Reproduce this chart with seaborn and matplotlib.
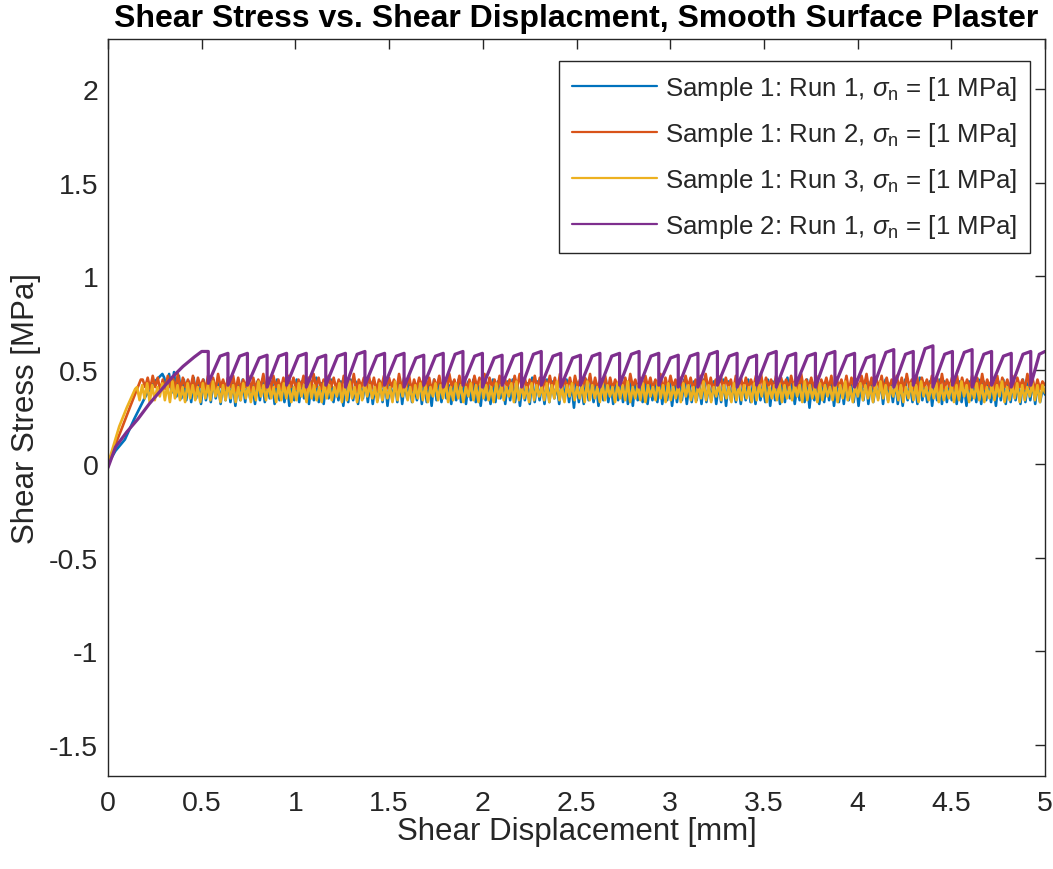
import numpy as np
import pandas as pd
import matplotlib
matplotlib.use("Agg")
import matplotlib.pyplot as plt
import seaborn as sns

# ---------------- data ----------------
labels = [
    r"Sample 1: Run 1, $\sigma_\mathrm{n}$ = [1 MPa]",
    r"Sample 1: Run 2, $\sigma_\mathrm{n}$ = [1 MPa]",
    r"Sample 1: Run 3, $\sigma_\mathrm{n}$ = [1 MPa]",
    r"Sample 2: Run 1, $\sigma_\mathrm{n}$ = [1 MPa]",
]
colors = ["#0072BD", "#D95319", "#EDB120", "#7E2F8E"]

# initial loading ramps (displacement mm, stress MPa)
s1r1_ramp_x = [0.0, 0.04, 0.09, 0.14, 0.20, 0.25, 0.29]
s1r1_ramp_y = [0.0, 0.07, 0.13, 0.24, 0.36, 0.44, 0.48]
s1r2_ramp_x = [0.0, 0.03, 0.07, 0.12, 0.175]
s1r2_ramp_y = [0.0, 0.08, 0.18, 0.31, 0.45]
s1r3_ramp_x = [0.0, 0.03, 0.06, 0.10, 0.145]
s1r3_ramp_y = [0.0, 0.10, 0.20, 0.30, 0.40]
s2r1_ramp_x = [0.0, 0.04, 0.10, 0.16, 0.22, 0.28, 0.34, 0.40, 0.46, 0.50]
s2r1_ramp_y = [-0.02, 0.09, 0.17, 0.24, 0.32, 0.39, 0.46, 0.52, 0.57, 0.60]

# stick-slip oscillation extremes after peak (stress in 0.01 MPa)
s1r1_hi = [
    46, 48, 49, 47, 45, 44, 46, 43, 45, 44, 45, 43, 44, 46, 44, 43, 45, 44, 42, 44,
    45, 43, 44, 45, 43, 44, 42, 45, 44, 43, 44, 46, 43, 44, 45, 42, 44, 43, 45, 44,
    43, 45, 44, 42, 44, 45, 43, 44, 46, 43, 44, 42, 45, 44, 43, 45, 44, 43, 42, 44,
    45, 43, 44, 45, 42, 44, 43, 45, 44, 43, 44, 45, 42, 44, 43, 46, 44, 43, 45, 44,
    42, 44, 45, 43, 44, 42, 45, 44, 43, 44, 45, 43, 42, 44, 45, 43, 44, 42, 45, 43,
    44, 45, 43, 44, 42, 44, 45, 43, 44, 43, 45, 42, 44, 43, 45, 44, 42, 44, 43, 45,
    43, 44, 42, 45, 44, 43, 44, 46, 43, 42, 44, 45, 43, 44, 42, 45, 44, 43, 44, 45,
    42, 44, 43, 45, 44, 42, 44, 45, 43, 44, 43, 45, 42, 44, 46, 43, 44, 42, 45, 44,
    43, 45, 44, 42, 44, 43, 45, 44, 43, 42, 44, 45, 43, 44, 42, 45, 43, 44, 43, 40]
s1r1_lo = [
    40, 38, 36, 35, 34, 33, 35, 32, 34, 33, 35, 32, 34, 33, 31, 34, 33, 35, 32, 34,
    33, 35, 32, 34, 33, 31, 34, 33, 35, 32, 34, 33, 32, 35, 33, 34, 31, 33, 34, 32,
    35, 33, 32, 34, 33, 31, 34, 33, 32, 35, 33, 34, 32, 33, 31, 34, 33, 35, 32, 34,
    33, 32, 34, 33, 31, 34, 32, 33, 35, 32, 34, 33, 31, 34, 32, 33, 34, 32, 33, 35,
    32, 34, 33, 30, 33, 32, 34, 33, 31, 34, 33, 32, 34, 33, 32, 31, 34, 33, 32, 34,
    33, 32, 34, 31, 33, 34, 32, 33, 34, 32, 33, 34, 32, 33, 31, 34, 33, 32, 34, 33,
    32, 34, 33, 31, 34, 32, 33, 35, 32, 34, 33, 30, 34, 32, 33, 34, 31, 33, 32, 34,
    33, 31, 34, 32, 33, 35, 32, 34, 33, 32, 31, 34, 33, 32, 34, 33, 31, 34, 32, 33,
    34, 32, 33, 31, 34, 33, 32, 34, 33, 31, 34, 32, 33, 34, 32, 33, 34, 32, 33, 37]
s1r2_hi = [
    45, 46, 47, 46, 45, 47, 46, 48, 46, 45, 47, 46, 45, 47, 46, 48, 45, 46, 47, 46,
    45, 47, 46, 45, 48, 46, 47, 45, 46, 47, 46, 45, 47, 46, 48, 46, 45, 47, 46, 45,
    47, 46, 48, 45, 46, 47, 46, 45, 47, 46, 45, 48, 46, 47, 45, 46, 47, 46, 45, 47,
    46, 48, 45, 47, 46, 45, 47, 46, 48, 46, 45, 47, 46, 45, 47, 48, 46, 45, 47, 46,
    45, 47, 46, 48, 45, 46, 47, 45, 46, 48, 46, 45, 47, 46, 45, 47, 46, 48, 45, 46,
    47, 46, 45, 48, 46, 47, 45, 46, 47, 46, 45, 47, 48, 46, 45, 47, 46, 45, 47, 46,
    46, 45, 47, 48, 46, 45, 47, 46, 45, 47, 46, 48, 45, 46, 47, 45, 46, 47, 46, 45,
    47, 46, 45, 47, 48, 46, 45, 47, 46, 45, 47, 46, 48, 45, 47, 46, 45, 47, 46, 48,
    45, 46, 47, 46, 45, 47, 46, 48, 45, 46, 47, 46, 45, 47, 46, 45, 48, 46, 45, 44]
s1r2_lo = [
    41, 40, 41, 39, 40, 41, 40, 39, 41, 40, 39, 41, 40, 40, 39, 41, 40, 41, 39, 40,
    41, 39, 40, 41, 40, 39, 41, 40, 39, 41, 40, 41, 39, 40, 41, 40, 39, 41, 40, 39,
    41, 40, 39, 41, 40, 40, 39, 41, 40, 41, 39, 40, 41, 39, 40, 41, 40, 39, 41, 40,
    39, 41, 40, 41, 39, 40, 41, 40, 39, 41, 40, 39, 41, 40, 41, 39, 40, 41, 40, 39,
    41, 40, 39, 41, 40, 39, 41, 40, 41, 39, 40, 41, 39, 40, 41, 40, 39, 41, 40, 39,
    41, 40, 41, 39, 40, 41, 39, 40, 41, 40, 39, 41, 40, 39, 41, 40, 41, 39, 40, 40,
    40, 41, 39, 40, 41, 40, 39, 41, 40, 41, 39, 40, 41, 40, 39, 41, 40, 39, 41, 40,
    39, 41, 40, 41, 39, 40, 41, 39, 40, 41, 40, 39, 41, 40, 39, 41, 40, 41, 39, 40,
    41, 40, 39, 41, 40, 41, 39, 40, 41, 40, 39, 41, 40, 39, 41, 40, 41, 39, 40, 42]
s1r3_hi = [
    41, 42, 43, 42, 41, 43, 42, 44, 42, 41, 43, 42, 41, 43, 42, 44, 41, 42, 43, 42,
    41, 43, 42, 41, 44, 42, 43, 41, 42, 43, 42, 41, 43, 42, 44, 42, 41, 43, 42, 41,
    43, 42, 44, 41, 42, 43, 42, 41, 43, 42, 41, 44, 42, 43, 41, 42, 43, 42, 41, 43,
    42, 44, 41, 43, 42, 41, 43, 42, 44, 42, 41, 43, 42, 41, 43, 44, 42, 41, 43, 42,
    41, 43, 42, 44, 41, 42, 43, 41, 42, 44, 42, 41, 43, 42, 41, 43, 42, 44, 41, 42,
    43, 42, 41, 44, 42, 43, 41, 42, 43, 42, 41, 43, 44, 42, 41, 43, 42, 41, 43, 42,
    42, 41, 43, 42, 44, 41, 42, 43, 42, 41, 43, 42, 44, 42, 41, 43, 42, 41, 43, 42,
    44, 41, 42, 43, 42, 41, 43, 44, 42, 41, 43, 42, 41, 43, 42, 44, 41, 42, 43, 42,
    41, 43, 42, 44, 42, 41, 43, 42, 41, 43, 42, 44, 41, 42, 43, 42, 41, 43, 42, 42]
s1r3_lo = [
    34, 35, 33, 34, 36, 34, 33, 35, 34, 33, 35, 34, 33, 35, 34, 36, 33, 34, 35, 33,
    34, 35, 33, 34, 36, 34, 35, 33, 34, 35, 33, 34, 36, 33, 35, 34, 33, 35, 34, 36,
    33, 34, 35, 33, 34, 36, 35, 33, 34, 35, 33, 34, 36, 34, 33, 35, 34, 33, 36, 34,
    35, 33, 34, 35, 33, 36, 34, 33, 35, 34, 33, 35, 34, 36, 33, 34, 35, 33, 34, 36,
    34, 33, 35, 34, 33, 36, 34, 35, 33, 34, 35, 33, 34, 36, 33, 35, 34, 33, 35, 34,
    33, 36, 34, 35, 33, 34, 35, 33, 36, 34, 33, 35, 34, 33, 36, 34, 35, 33, 34, 34,
    35, 33, 34, 36, 33, 35, 34, 33, 35, 34, 36, 33, 34, 35, 33, 34, 36, 34, 33, 35,
    34, 33, 36, 34, 35, 33, 34, 35, 33, 36, 34, 33, 35, 34, 33, 36, 34, 35, 33, 34,
    35, 33, 34, 36, 33, 35, 34, 33, 35, 34, 36, 33, 34, 35, 33, 34, 36, 34, 33, 38]

# Sample 2 stick-slip cycles: slip positions (mm), stress before / after slip (MPa)
s2r1_slip_x = [
    0.535, 0.64, 0.744, 0.849, 0.953, 1.058, 1.162, 1.267, 1.371, 1.476,
    1.58, 1.685, 1.789, 1.894, 1.998, 2.103, 2.207, 2.312, 2.416, 2.521,
    2.625, 2.73, 2.834, 2.939, 3.043, 3.148, 3.252, 3.357, 3.461, 3.566,
    3.67, 3.775, 3.879, 3.984, 4.088, 4.193, 4.297, 4.402, 4.506, 4.611,
    4.715, 4.82, 4.924]
s2r1_peak = [
    0.60, 0.59, 0.59, 0.58, 0.59, 0.59, 0.58, 0.59, 0.60, 0.59,
    0.59, 0.58, 0.59, 0.60, 0.59, 0.58, 0.59, 0.60, 0.59, 0.58,
    0.59, 0.59, 0.60, 0.59, 0.58, 0.59, 0.60, 0.59, 0.58, 0.60,
    0.59, 0.59, 0.60, 0.59, 0.58, 0.61, 0.60, 0.63, 0.60, 0.61,
    0.60, 0.59, 0.60]
s2r1_trough = [
    0.43, 0.42, 0.42, 0.41, 0.42, 0.41, 0.42, 0.41, 0.42, 0.42,
    0.41, 0.42, 0.41, 0.42, 0.41, 0.42, 0.41, 0.42, 0.41, 0.42,
    0.41, 0.42, 0.41, 0.42, 0.41, 0.41, 0.42, 0.41, 0.42, 0.41,
    0.42, 0.41, 0.42, 0.41, 0.42, 0.41, 0.42, 0.41, 0.42, 0.41,
    0.42, 0.41, 0.42]
s2r1_end_y = 0.60

x_max = 5.0


def stick_slip_curve(ramp_x, ramp_y, hi, lo):
    """Loading ramp followed by alternating high/low stress samples."""
    n = len(hi)
    xs = np.linspace(ramp_x[-1] + 0.01, x_max, 2 * n)
    ys = np.empty(2 * n)
    ys[0::2] = np.asarray(hi) / 100.0
    ys[1::2] = np.asarray(lo) / 100.0
    return np.r_[ramp_x, xs], np.r_[ramp_y, ys]


def sawtooth_curve(ramp_x, ramp_y, slip_x, peak, trough, end_y):
    """Loading ramp, then linear reloading and vertical slip drops."""
    xs, ys = list(ramp_x), list(ramp_y)
    xs.append(slip_x[0]); ys.append(peak[0])
    for i, xd in enumerate(slip_x):
        xs.append(xd); ys.append(trough[i])
        if i + 1 < len(slip_x):
            nxt, top = slip_x[i + 1], peak[i + 1]
        else:
            nxt, top = x_max, end_y
        xs.append(xd + 0.6 * (nxt - xd)); ys.append(top - 0.015)
        xs.append(nxt); ys.append(top)
    return np.array(xs), np.array(ys)


curves = [
    stick_slip_curve(s1r1_ramp_x, s1r1_ramp_y, s1r1_hi, s1r1_lo),
    stick_slip_curve(s1r2_ramp_x, s1r2_ramp_y, s1r2_hi, s1r2_lo),
    stick_slip_curve(s1r3_ramp_x, s1r3_ramp_y, s1r3_hi, s1r3_lo),
    sawtooth_curve(s2r1_ramp_x, s2r1_ramp_y, s2r1_slip_x, s2r1_peak,
                   s2r1_trough, s2r1_end_y),
]
line_widths = [1.9, 1.9, 1.9, 2.3]

frames = []
for lab, (cx, cy) in zip(labels, curves):
    frames.append(pd.DataFrame({"disp": cx, "stress": cy, "run": lab}))
df = pd.concat(frames, ignore_index=True)

# ---------------- style ----------------
sns.set_theme(style="white")
plt.rcParams["font.family"] = ["Liberation Sans", "DejaVu Sans"]
plt.rcParams["mathtext.fontset"] = "custom"
plt.rcParams["mathtext.rm"] = "Liberation Sans"
plt.rcParams["mathtext.it"] = "Liberation Sans:italic"
plt.rcParams["axes.edgecolor"] = "#262626"
plt.rcParams["axes.linewidth"] = 1.0

fig = plt.figure(figsize=(10.53, 8.70), dpi=100)
ax = fig.add_axes([108 / 1053, 1 - 777 / 870, (1045 - 108) / 1053, (777 - 40) / 870])

for lab, col, lw in zip(labels, colors, line_widths):
    sub = df[df["run"] == lab]
    sns.lineplot(data=sub, x="disp", y="stress", sort=False, estimator=None,
                 color=col, linewidth=lw, label=lab, ax=ax)

ax.set_xlim(0, 5)
ax.set_ylim(-1.665, 2.267)
ax.set_xticks(np.arange(0, 5.01, 0.5))
ax.set_xticklabels(["0", "0.5", "1", "1.5", "2", "2.5", "3", "3.5", "4", "4.5", "5"])
ax.set_yticks([-1.5, -1, -0.5, 0, 0.5, 1, 1.5, 2])
ax.set_yticklabels(["-1.5", "-1", "-0.5", "0", "0.5", "1", "1.5", "2"])
ax.tick_params(direction="in", top=True, right=True, length=7, width=1.0,
               colors="#262626", labelsize=20.5, pad=7)
ax.tick_params(axis="x", pad=10)
for s in ax.spines.values():
    s.set_visible(True)
    s.set_color("#262626")

ax.set_xlabel("Shear Displacement [mm]", fontsize=22.5, color="#262626", labelpad=0)
ax.set_ylabel("Shear Stress [MPa]", fontsize=22.5, color="#262626", labelpad=6)
ax.set_title("Shear Stress vs. Shear Displacment, Smooth Surface Plaster",
             fontsize=23, fontweight="bold", color="black", pad=9)

leg = ax.legend(loc="upper right", bbox_to_anchor=(0.984, 0.970), fontsize=18.6,
                frameon=True, fancybox=False, shadow=False, framealpha=1,
                edgecolor="#262626", handlelength=3.3, handletextpad=0.3,
                labelspacing=0.7, borderpad=0.5, borderaxespad=0)
leg.get_frame().set_linewidth(1.0)
for line in leg.get_lines():
    line.set_linewidth(1.6)

fig.savefig("out.png", dpi=100)
